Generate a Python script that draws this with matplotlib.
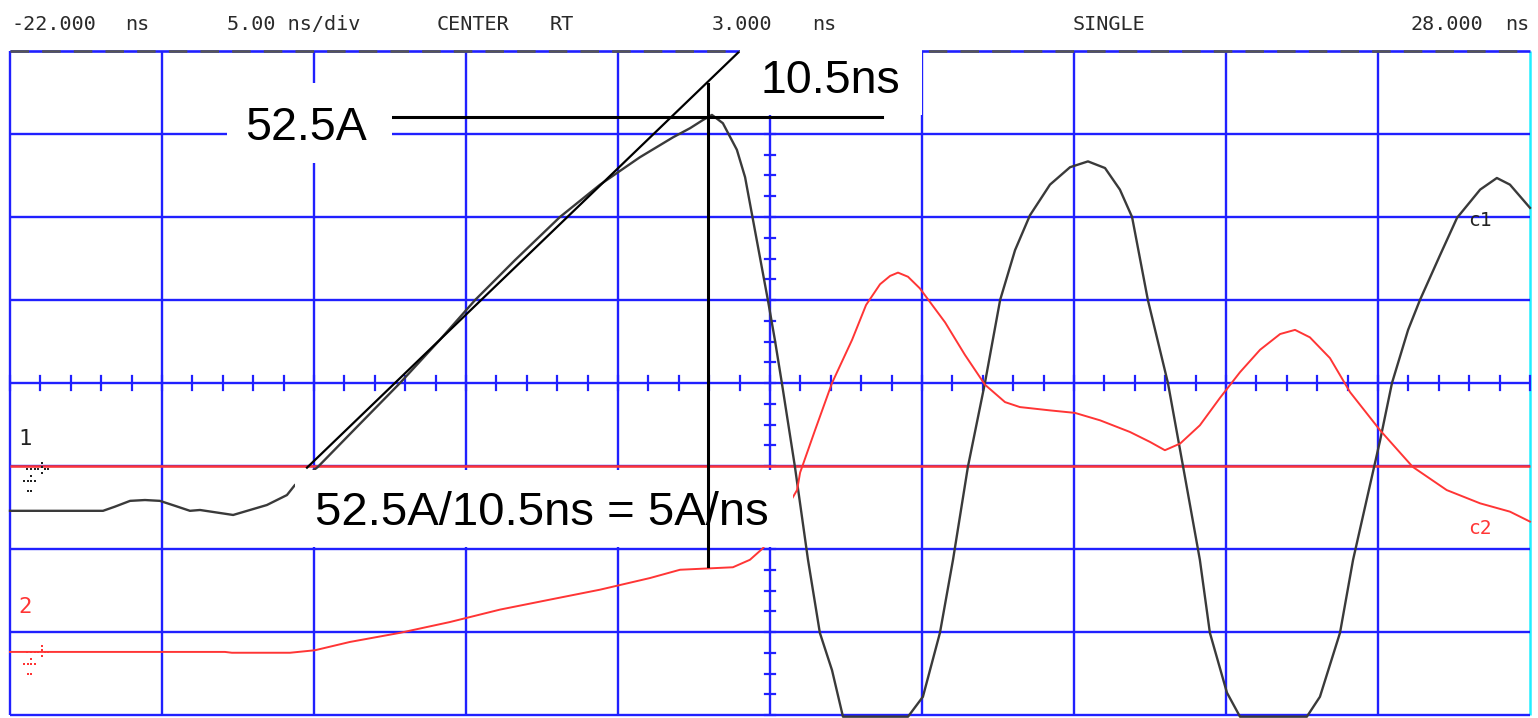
import matplotlib.pyplot as plt
from matplotlib.patches import Rectangle

# screen: 10 div x 5 ns, 8 div vertical
T_LEFT, T_RIGHT = -22.0, 28.0
NS_PER_DIV = 5.0
N_VDIV = 4

# channel 1 (black), time in ns, level in divisions
c1_t = [-22.00, -18.94, -18.55, -18.05, -17.56, -17.07, -16.57, -16.08, -15.75, -14.66,
        -13.55, -12.89, -12.63, -11.87, -10.59, -9.17, -7.86, -6.70, -5.39, -3.91,
        -2.59, -1.28, -0.19, 0.37, 0.80, 1.09, 1.45, 1.91, 2.18, 2.93,
        3.16, 3.39, 3.82, 4.25, 4.64, 5.04, 5.40, 7.54, 8.03, 8.59,
        9.02, 9.51, 10.07, 10.57, 11.06, 11.55, 12.21, 12.87, 13.46, 14.02,
        14.51, 14.91, 15.43, 16.09, 16.59, 17.14, 17.47, 18.03, 18.46, 20.66,
        21.09, 21.75, 22.18, 23.07, 23.46, 23.99, 24.38, 25.04, 25.60, 26.36,
        26.91, 27.34, 28.00]
c1_v = [-1.54, -1.54, -1.49, -1.42, -1.41, -1.42, -1.48, -1.54, -1.53, -1.59,
        -1.47, -1.35, -1.23, -1.01, -0.53, 0.00, 0.52, 1.00, 1.48, 2.00,
        2.39, 2.72, 2.96, 3.07, 3.17, 3.23, 3.13, 2.81, 2.48, 1.00,
        0.52, 0.00, -1.01, -2.13, -3.01, -3.46, -4.02, -4.02, -3.78, -3.01,
        -2.13, -1.01, 0.00, 1.00, 1.60, 2.02, 2.39, 2.60, 2.67, 2.59,
        2.33, 2.00, 1.00, 0.00, -1.01, -2.13, -3.01, -3.73, -4.02, -4.02,
        -3.78, -3.01, -2.13, -0.69, 0.00, 0.64, 1.00, 1.54, 1.99, 2.33,
        2.47, 2.39, 2.11]

# channel 2 (red)
c2_t = [-22.00, -14.93, -14.70, -12.79, -11.97, -10.82, -9.17, -7.53, -5.88, -4.24,
        -2.59, -0.95, 0.04, 1.78, 2.34, 2.77, 3.89, 3.99, 4.48, 5.04,
        5.70, 6.16, 6.62, 6.95, 7.21, 7.54, 7.93, 8.76, 9.41, 10.07,
        10.73, 11.22, 12.21, 13.03, 13.86, 14.84, 15.50, 15.99, 16.49, 17.14,
        17.80, 18.46, 19.12, 19.78, 20.27, 20.76, 21.42, 22.08, 23.07, 24.14,
        25.26, 26.36, 27.34, 28.00]
c2_v = [-3.24, -3.24, -3.25, -3.25, -3.22, -3.12, -3.01, -2.88, -2.73, -2.61,
        -2.49, -2.35, -2.25, -2.22, -2.13, -1.99, -1.29, -1.08, -0.57, 0.00,
        0.52, 0.94, 1.19, 1.29, 1.33, 1.28, 1.14, 0.73, 0.34, -0.02,
        -0.23, -0.29, -0.33, -0.36, -0.45, -0.59, -0.71, -0.81, -0.73, -0.51,
        -0.18, 0.13, 0.40, 0.59, 0.64, 0.55, 0.30, -0.11, -0.57, -1.01,
        -1.29, -1.45, -1.55, -1.67]

trig_level = -1.0

# slope annotation (ns / div)
slope_line_t = [-12.23, 1.95]
slope_line_v = [-1.02, 3.98]
peak_level = 3.20
peak_time = 0.96
peak_text = "52.5A"
rise_text = "10.5ns"
slope_text = "52.5A/10.5ns = 5A/ns"

header = [("-22.000", 12), ("ns", 125), ("5.00 ns/div", 227), ("CENTER", 437),
          ("RT", 550), ("3.000", 712), ("ns", 812), ("SINGLE", 1073),
          ("28.000", 1410), ("ns", 1505)]

# pixel layout of the screen grab
PX_X0, PX_YC = 10, 383
PX_DIV_X, PX_DIV_Y = 152, 83
W, H = 1538, 718


def px(x, y):
    return (T_LEFT + (x - PX_X0) / PX_DIV_X * NS_PER_DIV, (PX_YC - y) / PX_DIV_Y)


BLUE = "#2020ff"
RED = "#ff3535"
TRACE = "#3a3a3a"

fig = plt.figure(figsize=(W / 100, H / 100), dpi=100)
ax = fig.add_axes([0, 0, 1, 1])
x0, y0 = px(0, H)
x1, y1 = px(W, 0)
ax.set_xlim(x0, x1)
ax.set_ylim(y0, y1)
ax.axis("off")

# graticule
vx = [T_LEFT + NS_PER_DIV * k for k in range(11)]
ax.vlines(vx[:-1], -N_VDIV, N_VDIV, color=BLUE, lw=1.7, zorder=1)
ax.vlines(vx[-1], -N_VDIV, N_VDIV, color="#22eeff", lw=1.8, zorder=1)
ax.hlines(range(-N_VDIV, N_VDIV), T_LEFT, T_RIGHT, color=BLUE, lw=1.7, zorder=1)
ax.hlines(N_VDIV, T_LEFT, T_RIGHT, color=BLUE, lw=1.9, zorder=1)
ax.plot([T_LEFT, T_RIGHT], [N_VDIV, N_VDIV], color="#555555", lw=1.9,
        dashes=(7, 5), zorder=1.1)
tc = (T_LEFT + T_RIGHT) / 2
for k in range(51):
    t = T_LEFT + k
    ax.plot([t, t], [-0.08, 0.08], color=BLUE, lw=1.6, zorder=1)
for k in range(-16, 17):
    v = k * 0.25
    ax.plot([tc - 0.17, tc + 0.17], [v, v], color=BLUE, lw=1.6, zorder=1)

ax.hlines(trig_level, T_LEFT, T_RIGHT, color=RED, lw=1.8, zorder=2)

# traces
ax.plot(c1_t, c1_v, color=TRACE, lw=1.7, zorder=3)
ax.plot(c2_t, c2_v, color=RED, lw=1.4, zorder=3)

# slope construction
ax.plot(slope_line_t, slope_line_v, color="black", lw=1.6, zorder=3.5)
ax.plot([-9.40, 6.68], [peak_level, peak_level], color="black", lw=2.2, zorder=3.5)

# white label boxes
for (xa, ya, xb, yb) in [(227, 163, 392, 83), (740, 115, 922, 30), (295, 547, 793, 470)]:
    (ta, va), (tb, vb) = px(xa, ya), px(xb, yb)
    ax.add_patch(Rectangle((ta, va), tb - ta, vb - va, facecolor="white",
                           edgecolor="none", zorder=4))

ax.plot([peak_time, peak_time], [3.60, -2.20], color="black", lw=2.2, zorder=5)

big = dict(family="Liberation Sans", color="black", va="baseline", ha="left", zorder=6)
ax.text(*px(245, 140), peak_text, fontsize=33.5, **big)
ax.text(*px(760, 93), rise_text, fontsize=33.5, **big)
ax.text(*px(315, 525), slope_text, fontsize=34, **big)

mono = dict(family="DejaVu Sans Mono", va="baseline", ha="left")
for s, x in header:
    ax.text(*px(x, 30), s, fontsize=14.5, color="#2a2a2a", **mono)

ax.text(*px(18, 445), "1", fontsize=16, color="#222222", **mono)
ax.text(*px(18, 613), "2", fontsize=16, color=RED, **mono)
ax.text(*px(1468, 226), "c1", fontsize=14, color="#222222", **mono)
ax.text(*px(1468, 534), "c2", fontsize=14, color=RED, **mono)

# ground markers
gx = [27, 31, 35, 38, 42, 42, 42, 45, 48, 24, 28, 31, 31, 35, 28, 31]
gy = [469, 469, 469, 469, 463, 467, 473, 469, 469, 481, 481, 476, 481, 481, 491, 491]
for dy, col in [(0, "#222222"), (183, RED)]:
    pts = [px(a, b + dy) for a, b in zip(gx, gy)]
    ax.scatter([p[0] for p in pts], [p[1] for p in pts], s=4, marker="s",
               color=col, linewidths=0, zorder=6)

fig.savefig("out.png", dpi=100)
